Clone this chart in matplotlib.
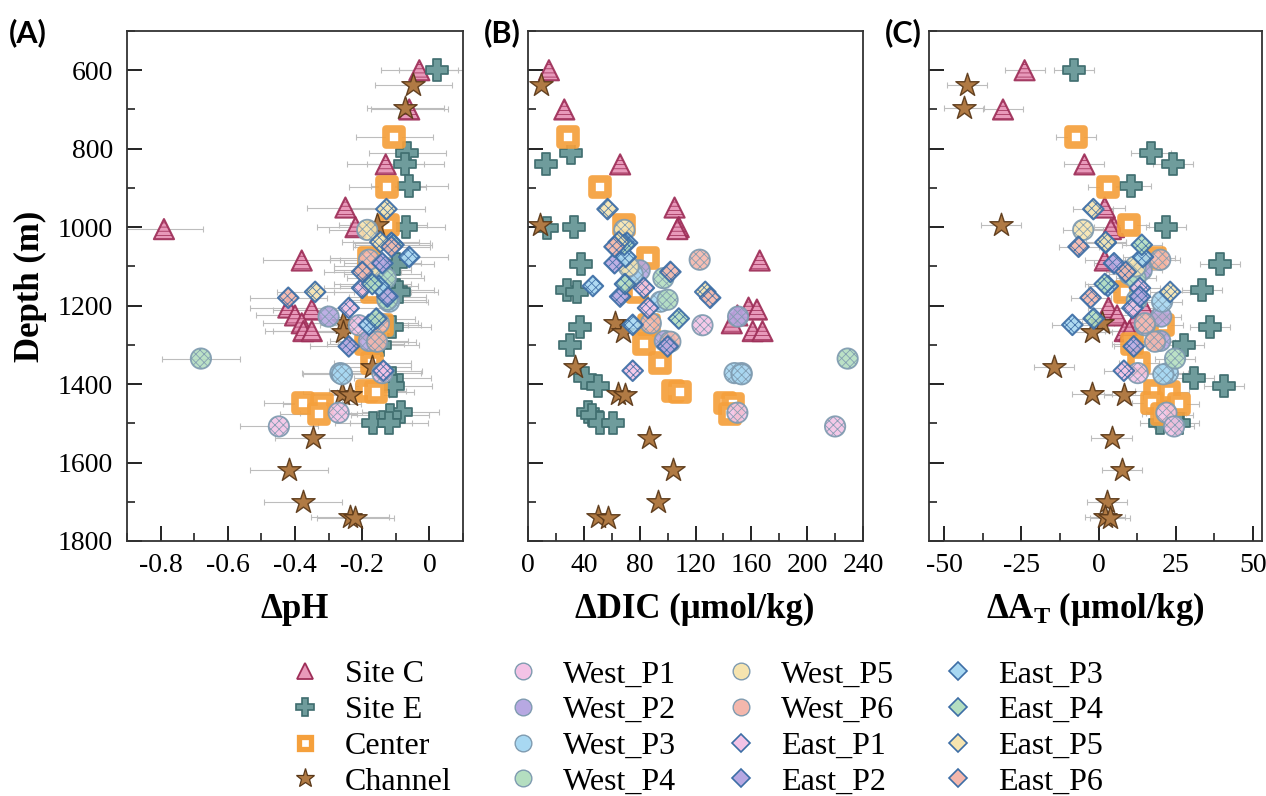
import numpy as np
import matplotlib
matplotlib.use('Agg')
import matplotlib.pyplot as plt
import matplotlib.colors as mcolors
from matplotlib.lines import Line2D
from matplotlib.ticker import MultipleLocator

nan = np.nan

# ---------------- data ----------------
siteC_depth = [600, 700, 840, 950, 1000, 1005, 1085, 1205, 1210, 1225, 1245, 1265, 1265]
siteC_pH = [-0.03, -0.06, -0.13, -0.25, -0.22, -0.79, -0.38, -0.42, -0.35, -0.40, -0.38, -0.375, -0.35]
siteC_DIC = [15, 26, 66, 105, 108, 107, 166, 158, 164, 150, 146, 161, 168]
siteC_TA = [-24, -31, -4.6, 2, 5, 4, 2, 3.2, 15, 6, 11.4, 8.5, 10]

siteE_depth = [600, 810, 840, 895, 1000, 1002, 1095, 1160, 1165, 1255, 1300, 1385, 1405, 1470, 1478, 1499, 1500]
siteE_pH = [0.024, -0.066, -0.072, -0.06, -0.07, nan, -0.10, -0.10, -0.09, -0.11, -0.147, -0.11, -0.107, -0.086, -0.117, -0.167, -0.12]
siteE_DIC = [nan, 31, 13, nan, 33, 13.6, 38, 28, 35, 37, 30, 41, 50, 43, 46, 51.6, 61]
siteE_TA = [-8, 17, 24, 10.5, 22, nan, 39.5, 33.6, nan, 36, 27.8, 31, 40.8, 22, 24, 20, 26]

center_depth = [770, 897, 995, 1078, 1165, 1250, 1297, 1345, 1418, 1420, 1448, 1450, 1476]
center_pH = [-0.104, -0.125, -0.122, -0.18, -0.17, -0.14, -0.19, -0.17, -0.185, -0.16, -0.376, -0.32, -0.33]
center_DIC = [28.5, 51.6, 68.8, 86, 78, 87, 83, 94.6, 104, 109, 141, 147, 145]
center_TA = [-7.2, 3, 9.8, 18.3, 8.5, 21, 10.8, 13, 18.3, 22.9, 17.3, 26, 20.6]

channel_depth = [638, 697, 995, 1245, 1268, 1357, 1425, 1428, 1537, 1620, 1700, 1740, 1742]
channel_pH = [-0.048, -0.072, -0.155, -0.257, -0.257, -0.17, -0.26, -0.236, -0.346, -0.418, -0.376, -0.236, -0.22]
channel_DIC = [9.3, nan, 8.6, 62, 68, 33.7, 64.5, 69.5, 87, 104, 93, 50, 57]
channel_TA = [-42.8, -43.5, -31.7, 1, -2, -14.4, -2, 8.2, 4.2, 7.5, 2.6, 2, 3.6]

westP1_depth = [1250, 1372, 1473, 1508]
westP1_pH = [-0.21, -0.14, -0.27, -0.448]
westP1_DIC = [125, 153, 150, 220]
westP1_TA = [15, 12.7, 22, 24.5]

westP2_depth = [1110, 1228, 1290]
westP2_pH = [-0.17, -0.30, -0.18]
westP2_DIC = [80, 150.5, 98]
westP2_TA = [14, 20.3, 20]

westP3_depth = [1120, 1190, 1372, 1375]
westP3_pH = [-0.14, -0.12, -0.265, -0.26]
westP3_DIC = [75, 95, 148, 153]
westP3_TA = [10, 20.6, 22.5, 21]

westP4_depth = [1130, 1185, 1335]
westP4_pH = [-0.13, -0.125, -0.68]
westP4_DIC = [97, 100, 229]
westP4_TA = [12, 12.4, 24.8]

westP5_depth = [1007, 1100]
westP5_pH = [-0.185, -0.17]
westP5_DIC = [69, 72]
westP5_TA = [-5, 12]

westP6_depth = [1083, 1245, 1292]
westP6_pH = [-0.18, -0.15, -0.156]
westP6_DIC = [123, 88, 102]
westP6_TA = [20, 15, 18.3]

eastP1_depth = [1155, 1206, 1366]
eastP1_pH = [-0.2, -0.24, -0.137]
eastP1_DIC = [83, 86, 75]
eastP1_TA = [13.4, 11, 8.2]

eastP2_depth = [1092, 1177, 1304]
eastP2_pH = [-0.14, -0.125, -0.24]
eastP2_DIC = [62, 66, 100]
eastP2_TA = [5, 13.4, 11.4]

eastP3_depth = [1040, 1076, 1150, 1249]
eastP3_pH = [-0.113, -0.06, -0.15, -0.18]
eastP3_DIC = [71, 70, 46.5, 75]
eastP3_TA = [2.3, 14.4, 3, -8.5]

eastP4_depth = [1045, 1145, 1233]
eastP4_pH = [-0.107, -0.17, -0.158]
eastP4_DIC = [69, 69.5, 108]
eastP4_TA = [14, 2, -1.6]

eastP5_depth = [954, 1038, 1165]
eastP5_pH = [-0.128, -0.146, -0.34]
eastP5_DIC = [57, 65, 127]
eastP5_TA = [-1.7, 2.3, 23.2]

eastP6_depth = [1050, 1114, 1180]
eastP6_pH = [-0.113, -0.2, -0.42]
eastP6_DIC = [62, 102, 130.5]
eastP6_TA = [-6.5, 8.8, -2.6]

pH_err = 0.115
TA_err = 6.5

series_labels = ['Site C', 'Site E', 'Center', 'Channel',
                 'West_P1', 'West_P2', 'West_P3', 'West_P4', 'West_P5', 'West_P6',
                 'East_P1', 'East_P2', 'East_P3', 'East_P4', 'East_P5', 'East_P6']

series_data = [
    (siteC_depth, siteC_pH, siteC_DIC, siteC_TA),
    (siteE_depth, siteE_pH, siteE_DIC, siteE_TA),
    (center_depth, center_pH, center_DIC, center_TA),
    (channel_depth, channel_pH, channel_DIC, channel_TA),
    (westP1_depth, westP1_pH, westP1_DIC, westP1_TA),
    (westP2_depth, westP2_pH, westP2_DIC, westP2_TA),
    (westP3_depth, westP3_pH, westP3_DIC, westP3_TA),
    (westP4_depth, westP4_pH, westP4_DIC, westP4_TA),
    (westP5_depth, westP5_pH, westP5_DIC, westP5_TA),
    (westP6_depth, westP6_pH, westP6_DIC, westP6_TA),
    (eastP1_depth, eastP1_pH, eastP1_DIC, eastP1_TA),
    (eastP2_depth, eastP2_pH, eastP2_DIC, eastP2_TA),
    (eastP3_depth, eastP3_pH, eastP3_DIC, eastP3_TA),
    (eastP4_depth, eastP4_pH, eastP4_DIC, eastP4_TA),
    (eastP5_depth, eastP5_pH, eastP5_DIC, eastP5_TA),
    (eastP6_depth, eastP6_pH, eastP6_DIC, eastP6_TA),
]

# ---------------- styles ----------------
pastel = ['#F3C3E6', '#B7A8E2', '#A8D8F2', '#B4DEC0', '#F6E4AF', '#F4B7AC']
styles = [
    dict(m='^', s=210, fc='#E899BA', ec='#9E2E58', lw=1.5, hatch='----', lm=12, lmew=1.3),
    dict(m='P', s=250, fc='#6F9C9C', ec='#3E6C6E', lw=1.3, hatch=None, lm=12.5, lmew=1.2),
    dict(m='s', s=120, fc='white', ec='#F5A03C', lw=5.5, hatch=None, lm=8.5, lmew=3.8),
    dict(m='*', s=310, fc='#B07A44', ec='#5A3818', lw=1.0, hatch=None, lm=14, lmew=0.9),
]
for c in pastel:
    styles.append(dict(m='o', s=215, fc=c, ec='#7F9BB0', lw=1.3, hatch='xxxx', lm=12, lmew=1.0))
for c in pastel:
    styles.append(dict(m='D', s=110, fc=c, ec='#3D6EA6', lw=1.5, hatch='xxxx', lm=9, lmew=1.2))

plt.rcParams['font.family'] = ['Liberation Serif', 'DejaVu Serif']
plt.rcParams['hatch.linewidth'] = 0.6
plt.rcParams['mathtext.fontset'] = 'custom'
plt.rcParams['mathtext.rm'] = 'Liberation Serif:bold'
plt.rcParams['mathtext.it'] = 'Liberation Serif:bold'
plt.rcParams['mathtext.bf'] = 'Liberation Serif:bold'

W, H = 1266, 796
fig = plt.figure(figsize=(W / 100, H / 100), dpi=100)

def ax_rect(left, right, top=31, bottom=541):
    return [left / W, 1 - bottom / H, (right - left) / W, (bottom - top) / H]

axA = fig.add_axes(ax_rect(127, 463))
axB = fig.add_axes(ax_rect(528, 863))
axC = fig.add_axes(ax_rect(929, 1262))

def plot_series(ax, vals, depth, st, err):
    v = np.asarray(vals, float)
    d = np.asarray(depth, float)
    if err is not None:
        ax.errorbar(v, d, xerr=err, fmt='none', ecolor='#BDBDBD', elinewidth=0.8,
                    capsize=2.5, capthick=0.8, zorder=0.8)
    fc = mcolors.to_rgba(st['fc'], 0.9 if st['m'] in ('o', 'D') else 1.0)
    ec = mcolors.to_rgba(st['ec'], 0.92)
    kw = {}
    if st['hatch']:
        kw['hatch'] = st['hatch']
    sc = ax.scatter(v, d, s=st['s'], marker=st['m'], facecolors=[fc], edgecolors=[ec],
                    linewidths=st['lw'], zorder=2, **kw)
    if st['hatch']:
        sc._hatch_color = mcolors.to_rgba('white', 0.75)

for st, (dep, ph, dic, ta) in zip(styles, series_data):
    plot_series(axA, ph, dep, st, pH_err)
    plot_series(axB, dic, dep, st, None)
    plot_series(axC, ta, dep, st, TA_err)

# ---------------- axes formatting ----------------
xcfg = [
    (axA, (-0.9, 0.1), 0.1, [-0.8, -0.6, -0.4, -0.2, 0], ['-0.8', '-0.6', '-0.4', '-0.2', '0']),
    (axB, (0, 240), 20, [0, 40, 80, 120, 160, 200, 240], ['0', '40', '80', '120', '160', '200', '240']),
    (axC, (-55, 53), 12.5, [-50, -25, 0, 25, 50], ['-50', '-25', '0', '25', '50']),
]
for ax, xl, mnr, tks, tlab in xcfg:
    ax.set_xlim(*xl)
    ax.set_ylim(1800, 500)
    ax.set_xticks(tks)
    ax.set_xticklabels(tlab)
    ax.xaxis.set_minor_locator(MultipleLocator(mnr))
    ax.set_yticks([600, 800, 1000, 1200, 1400, 1600, 1800])
    ax.yaxis.set_minor_locator(MultipleLocator(100))
    ax.tick_params(which='major', direction='in', length=11, width=1.4, color='#222222',
                   labelsize=20, pad=9)
    ax.tick_params(which='minor', direction='in', length=6, width=1.2, color='#222222')
    ax.tick_params(axis='y', pad=10)
    for sp in ax.spines.values():
        sp.set_linewidth(1.3)
        sp.set_color('#333333')
    if ax is not axA:
        ax.tick_params(axis='y', labelleft=False)

fig.text(30 / W, 1 - 286 / H, 'Depth (m)', rotation=90, ha='center', va='center',
         fontsize=25, fontweight='bold')
fig.text(295 / W, 1 - 609 / H, 'ΔpH', ha='center', va='center', fontsize=25, fontweight='bold')
fig.text(695 / W, 1 - 609 / H, 'ΔDIC (μmol/kg)', ha='center', va='center', fontsize=25,
         fontweight='bold')
fig.text(1095 / W, 1 - 609 / H, r'ΔA$_{\mathrm{T}}$ (μmol/kg)', ha='center', va='center',
         fontsize=25, fontweight='bold')

for lab, x in [('(A)', 28), ('(B)', 502), ('(C)', 903)]:
    fig.text(x / W, 1 - 33 / H, lab, ha='center', va='center', fontsize=22,
             fontweight='bold', family=['Lato', 'DejaVu Sans'])

# ---------------- legend ----------------
handles = []
for st in styles:
    handles.append(Line2D([], [], linestyle='none', marker=st['m'], markersize=st['lm'],
                          markerfacecolor=st['fc'], markeredgecolor=st['ec'],
                          markeredgewidth=st['lmew']))
col_x = [289, 507, 725, 942]
for ci in range(4):
    fig.legend(handles[4 * ci:4 * ci + 4], series_labels[4 * ci:4 * ci + 4],
               loc='upper left', bbox_to_anchor=(col_x[ci] / W, 1 - 660 / H),
               frameon=False, fontsize=23, handlelength=1.0, handletextpad=0.75,
               labelspacing=0.2, borderpad=0, borderaxespad=0)

fig.savefig('out.png', dpi=100)
